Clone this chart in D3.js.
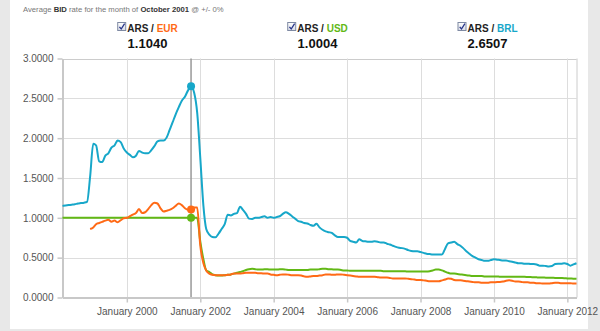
<!DOCTYPE html>
<html>
<head>
<meta charset="utf-8">
<script src="https://cdn.jsdelivr.net/npm/d3@7/dist/d3.min.js"></script>
<style>
  html, body { margin: 0; padding: 0; background: #e8e8e8; }
  svg { display: block; font-family: "Liberation Sans", Arial, Helvetica, sans-serif; }
</style>
</head>
<body>
<svg id="chart" width="600" height="331"></svg>
<script>
// ---------------- DATA ----------------
const seriesNames = ["EUR", "USD", "BRL"];
const seriesColors = ["#ff6a16", "#62b815", "#17a7c9"];
const highlightLabel = "October 2001";
const highlightValues = [1.1040, 1.0004, 2.6507];
const yTicks = [0, 0.5, 1.0, 1.5, 2.0, 2.5, 3.0];
const xTickYears = [2000, 2002, 2004, 2006, 2008, 2010, 2012];

// monthly averages, BRL & USD start April 1998, EUR starts January 1999
const brlStart = [1998, 3];
const brlValues = [
  1.15,1.155,1.16,1.165,1.17,1.18,1.185,1.19,1.20,
  1.52,1.93,1.91,1.71,1.70,1.78,1.81,1.88,1.91,1.97,1.95,1.87,
  1.82,1.79,1.76,1.78,1.84,1.82,1.81,1.81,1.85,1.90,1.96,1.97,
  1.97,2.01,2.10,2.20,2.30,2.39,2.47,2.52,2.60,2.6507,2.57,2.32,
  1.75,1.15,0.86,0.79,0.76,0.755,0.80,0.86,0.92,1.04,1.03,1.05,
  1.06,1.14,1.10,1.05,0.99,0.985,1.00,1.00,1.01,1.02,1.00,1.01,
  1.00,1.01,1.02,1.05,1.07,1.05,1.02,0.99,0.96,0.95,0.935,0.93,
  0.91,0.90,0.925,0.88,0.85,0.83,0.82,0.81,0.78,0.76,0.76,0.76,
  0.75,0.71,0.70,0.69,0.73,0.71,0.705,0.70,0.70,0.705,0.70,0.69,
  0.69,0.675,0.665,0.65,0.635,0.625,0.62,0.61,0.595,0.585,0.58,0.58,
  0.57,0.56,0.55,0.545,0.54,0.54,0.54,0.54,0.61,0.68,0.69,0.70,
  0.67,0.65,0.62,0.58,0.55,0.52,0.50,0.48,0.47,0.46,0.46,0.47,
  0.48,0.475,0.47,0.465,0.465,0.455,0.45,0.44,0.43,0.43,0.425,0.425,
  0.42,0.42,0.415,0.40,0.40,0.395,0.39,0.395,0.42,0.425,0.425,0.43,
  0.42,0.40,0.415,0.43
];
const usdStart = [1998, 3];
const usdValues = [
  1.0,1.0,1.0,1.0,1.0,1.0,1.0,1.0,1.0,
  1.0,1.0,1.0,1.0,1.0,1.0,1.0,1.0,1.0,1.0,1.0,1.0,
  1.0,1.0,1.0,1.0,1.0,1.0,1.0,1.0,1.0,1.0,1.0,1.0,
  1.0,1.0,1.0,1.0,1.0,1.0,1.0,1.0,1.0,1.0004,1.0,1.0,
  0.70,0.48,0.34,0.32,0.29,0.28,0.275,0.275,0.28,0.285,0.29,0.30,
  0.31,0.32,0.33,0.345,0.355,0.36,0.355,0.35,0.35,0.355,0.355,0.35,
  0.35,0.35,0.355,0.355,0.35,0.345,0.345,0.345,0.345,0.345,0.345,0.345,
  0.35,0.35,0.35,0.355,0.36,0.36,0.355,0.355,0.35,0.35,0.345,0.34,
  0.34,0.335,0.335,0.335,0.335,0.335,0.335,0.335,0.335,0.335,0.335,0.335,
  0.33,0.33,0.33,0.33,0.33,0.33,0.33,0.33,0.325,0.325,0.325,0.325,
  0.325,0.325,0.325,0.33,0.34,0.35,0.35,0.34,0.325,0.31,0.30,0.30,
  0.295,0.29,0.285,0.28,0.275,0.27,0.27,0.27,0.27,0.265,0.265,0.265,
  0.265,0.265,0.26,0.26,0.26,0.26,0.26,0.26,0.26,0.26,0.26,0.258,
  0.256,0.255,0.253,0.251,0.25,0.249,0.248,0.247,0.246,0.245,0.244,0.243,
  0.24,0.238,0.236,0.235
];
const eurStart = [1999, 0];
const eurValues = [
  0.86,0.88,0.92,0.935,0.95,0.965,0.975,0.95,0.965,0.945,0.97,0.995,
  1.00,1.02,1.04,1.06,1.11,1.06,1.07,1.11,1.16,1.19,1.18,1.12,
  1.08,1.09,1.10,1.12,1.15,1.18,1.16,1.12,1.10,1.104,1.13,1.13,
  0.65,0.43,0.34,0.30,0.285,0.28,0.28,0.28,0.28,0.285,0.29,0.30,
  0.30,0.30,0.305,0.31,0.31,0.31,0.31,0.305,0.305,0.30,0.30,0.29,
  0.285,0.28,0.285,0.29,0.29,0.285,0.28,0.28,0.28,0.275,0.265,0.26,
  0.265,0.27,0.27,0.275,0.28,0.29,0.29,0.285,0.285,0.29,0.29,0.285,
  0.28,0.275,0.27,0.265,0.26,0.26,0.26,0.26,0.26,0.26,0.255,0.25,
  0.25,0.25,0.245,0.24,0.24,0.24,0.24,0.24,0.235,0.23,0.225,0.22,
  0.22,0.215,0.21,0.205,0.205,0.205,0.205,0.215,0.225,0.24,0.235,0.22,
  0.215,0.215,0.21,0.205,0.20,0.195,0.19,0.19,0.185,0.185,0.185,0.19,
  0.19,0.195,0.195,0.20,0.21,0.215,0.21,0.20,0.20,0.195,0.19,0.19,
  0.185,0.185,0.18,0.18,0.175,0.175,0.175,0.18,0.185,0.185,0.18,0.18,
  0.18,0.18,0.175,0.175
];
const domainStart = [1998, 3];
const domainEnd = [2012, 3];
const highlightDate = [2001, 9];

// ---------------- BUILD ----------------
function toSeries(start, values) {
  return values.map((v, i) => ({ date: new Date(start[0], start[1] + i, 1), value: v }));
}
const series = [
  { name: "EUR", color: seriesColors[0], data: toSeries(eurStart, eurValues), hi: highlightValues[0] },
  { name: "USD", color: seriesColors[1], data: toSeries(usdStart, usdValues), hi: highlightValues[1] },
  { name: "BRL", color: seriesColors[2], data: toSeries(brlStart, brlValues), hi: highlightValues[2] }
];

const svg = d3.select("#chart");

// white panel
svg.append("rect").attr("x", 10).attr("y", 0).attr("width", 578).attr("height", 329).attr("fill", "#ffffff");

const plot = { left: 62.5, right: 576.5, top: 58.5, bottom: 297.5 };

const x = d3.scaleTime()
  .domain([new Date(domainStart[0], domainStart[1], 1), new Date(domainEnd[0], domainEnd[1], 1)])
  .range([plot.left, plot.right]);
const y = d3.scaleLinear().domain([0, 3]).range([plot.bottom, plot.top]);

// grid
const grid = svg.append("g");
grid.selectAll("line.h").data(yTicks.slice(1)).join("line")
  .attr("x1", plot.left).attr("x2", plot.right)
  .attr("y1", d => Math.round(y(d)) + 0.5).attr("y2", d => Math.round(y(d)) + 0.5)
  .attr("stroke", d => d === 3 ? "#cccccc" : "#dddddd").attr("stroke-width", 1);
const xTickDates = xTickYears.map(yr => new Date(yr, 0, 1));
grid.selectAll("line.v").data(xTickDates).join("line")
  .attr("x1", d => Math.round(x(d)) + 0.5).attr("x2", d => Math.round(x(d)) + 0.5)
  .attr("y1", plot.top).attr("y2", plot.bottom)
  .attr("stroke", "#dddddd").attr("stroke-width", 1);
// right frame
grid.append("line").attr("x1", plot.right + 0.5).attr("x2", plot.right + 0.5)
  .attr("y1", plot.top).attr("y2", plot.bottom).attr("stroke", "#cccccc");

// crosshair
const hx = x(new Date(highlightDate[0], highlightDate[1], 1));
svg.append("line").attr("x1", hx).attr("x2", hx).attr("y1", plot.top).attr("y2", plot.bottom)
  .attr("stroke", "#999999").attr("stroke-width", 1.5);

// axes
const yAxis = d3.axisLeft(y).tickValues(yTicks).tickFormat(d3.format(".4f")).tickSize(5).tickSizeOuter(0).tickPadding(4);
const gy = svg.append("g").attr("transform", `translate(${plot.left},0)`).call(yAxis);
const xAxis = d3.axisBottom(x).tickValues(xTickDates).tickFormat(d3.timeFormat("January %Y")).tickSize(5).tickSizeOuter(0).tickPadding(5);
const gx = svg.append("g").attr("transform", `translate(0,${plot.bottom})`).call(xAxis);
[gx, gy].forEach(g => {
  g.select(".domain").attr("stroke", "#c8c8c8").attr("stroke-width", 2);
  g.selectAll(".tick line").attr("stroke", "#c8c8c8").attr("stroke-width", 1.5);
  g.selectAll(".tick text").attr("fill", "#555555").attr("font-size", "10px")
    .attr("font-family", '"Liberation Sans", Arial, sans-serif');
});

// lines
const line = d3.line().x(d => x(d.date)).y(d => y(d.value)).curve(d3.curveMonotoneX);
svg.append("g").selectAll("path").data(series.slice().reverse()).join("path")
  .attr("d", s => line(s.data)).attr("fill", "none")
  .attr("stroke", s => s.color).attr("stroke-width", 2).attr("stroke-linejoin", "round");

// markers
svg.append("g").selectAll("circle").data(series).join("circle")
  .attr("cx", hx).attr("cy", s => y(s.hi)).attr("r", 4).attr("fill", s => s.color);

// header
const hdr = svg.append("text").attr("x", 23).attr("y", 12).attr("font-size", "7.7px").attr("fill", "#777777");
hdr.append("tspan").text("Average ");
hdr.append("tspan").text("BID").attr("font-weight", "bold").attr("fill", "#333333");
hdr.append("tspan").text(" rate for the month of ");
hdr.append("tspan").text(highlightLabel).attr("font-weight", "bold").attr("fill", "#333333");
hdr.append("tspan").text(" @ +/- 0%");

// legend
const defs = svg.append("defs");
const grad = defs.append("linearGradient").attr("id", "cbg").attr("x1", 0).attr("y1", 0).attr("x2", 0).attr("y2", 1);
grad.append("stop").attr("offset", "0%").attr("stop-color", "#ffffff");
grad.append("stop").attr("offset", "100%").attr("stop-color", "#d8dce6");

series.forEach((s, i) => {
  const cx = plot.left + 170 * i + 85;
  const g = svg.append("g");
  const label = g.append("text").attr("y", 32).attr("font-size", "10px").attr("font-weight", "bold").attr("fill", "#222222");
  label.append("tspan").text("ARS / ");
  label.append("tspan").text(s.name).attr("fill", s.color);
  const tw = label.node().getComputedTextLength();
  const box = 8, gap = 2;
  const start = cx - (box + gap + tw) / 2;
  label.attr("x", start + box + gap);
  g.append("rect").attr("x", start + 0.5).attr("y", 22.5).attr("width", box).attr("height", box)
    .attr("fill", "url(#cbg)").attr("stroke", "#7f8aa3").attr("stroke-width", 1);
  g.append("path").attr("d", `M${start + 2.2},${26.8} L${start + 4},${29} L${start + 7.4},${23.6}`)
    .attr("fill", "none").attr("stroke", "#27358a").attr("stroke-width", 1.3);
  g.append("text").attr("x", cx).attr("y", 47.5).attr("text-anchor", "middle")
    .attr("font-size", "13px").attr("font-weight", "bold").attr("fill", "#111111")
    .text(d3.format(".4f")(s.hi));
});
</script>
</body>
</html>
